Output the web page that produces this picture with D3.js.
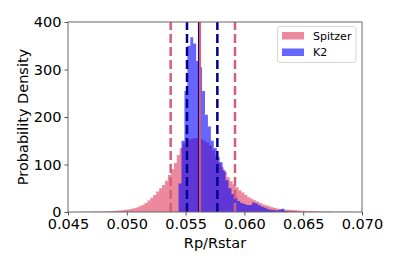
<!DOCTYPE html>
<html>
<head>
<meta charset="utf-8">
<script src="https://cdn.jsdelivr.net/npm/d3@7"></script>
<style>
  body { margin: 0; background: #fff; }
  svg { font-family: "DejaVu Sans", sans-serif; }
</style>
</head>
<body>
<svg width="399" height="266"></svg>
<script>
// histogram bins (density), width 0.00025
var binWidth = 0.00025;
var spitzerStart = 0.046;
var spitzerDensity = [0.3,0.3,0.5,0.5,0.7,0.8,1,1,1.2,1.5,1.8,2,2.5,3,3.5,4.5,5.5,6.5,8,9.5,
  12,15,19,24,30,36,43,50,57,66,78,90,103,120,135,145,150,153,155,156,
  155,153,150,146,140,130,118,104,94,84,73,65,58,52,46,41,36,31,28,25,
  22,19,16,14,12,10,8.5,7,6,5.5,5,4.5,4,3.5,3,2.5,2.5,2,2,1.5,
  1.5,1.2,1,1,0.8,0.8,0.6,0.6,0.5,0.4,0.4,0.3,0.3,0.2,0.2,0.1];
var k2Start = 0.0544;
var k2Density = [60,150,255,350,368,355,318,305,255,205,180,150,135,116,105,88,67,50,38,30,
  23,19,17,15,15,20,18,14,11,9,6,5,4,3,5,7,2,1,0.5,0.5,0.3];

// percentile / median markers
var spitzerLines = [0.05373, 0.0592];
var k2Lines = [0.05512, 0.0577];
var spitzerMedian = 0.05622;
var k2Median = 0.0561;

var xTicks = [0.045, 0.050, 0.055, 0.060, 0.065, 0.070];
var yTicks = [0, 100, 200, 300, 400];
var legendNames = ["Spitzer", "K2"];

var svg = d3.select("svg");
var mLeft = 68, mRight = 362, mTop = 22, mBottom = 212;

var x = d3.scaleLinear().domain([0.045, 0.070]).range([mLeft, mRight]);
var y = d3.scaleLinear().domain([0, 400]).range([mBottom, mTop]);

svg.append("clipPath").attr("id", "c")
  .append("rect").attr("x", mLeft).attr("y", mTop)
  .attr("width", mRight - mLeft).attr("height", mBottom - mTop);

var plot = svg.append("g").attr("clip-path", "url(#c)");

function steps(start, vals) {
  var pts = vals.map(function(v, i) { return [start + i * binWidth, v]; });
  pts.push([start + vals.length * binWidth, vals[vals.length - 1]]);
  return pts;
}

var area = d3.area()
  .curve(d3.curveStepAfter)
  .x(function(d) { return x(d[0]); })
  .y0(y(0))
  .y1(function(d) { return y(d[1]); });

plot.append("path").datum(steps(spitzerStart, spitzerDensity))
  .attr("d", area).attr("fill", "crimson").attr("fill-opacity", 0.5);

plot.append("path").datum(steps(k2Start, k2Density))
  .attr("d", area).attr("fill", "blue").attr("fill-opacity", 0.6);

// dashed lines, drawn bottom to top
plot.selectAll("line.sp").data(spitzerLines).enter().append("line")
  .attr("x1", function(d) { return x(d); }).attr("x2", function(d) { return x(d); })
  .attr("y1", y(0)).attr("y2", y(400))
  .attr("stroke", "#d2607a").attr("stroke-width", 2.5)
  .attr("stroke-dasharray", "9,4");

plot.selectAll("line.k2").data(k2Lines).enter().append("line")
  .attr("x1", function(d) { return x(d); }).attr("x2", function(d) { return x(d); })
  .attr("y1", y(0)).attr("y2", y(400))
  .attr("stroke", "#00008b").attr("stroke-width", 2.5)
  .attr("stroke-dasharray", "9,4");

plot.append("line")
  .attr("x1", x(k2Median)).attr("x2", x(k2Median))
  .attr("y1", y(0)).attr("y2", y(400))
  .attr("stroke", "#000080").attr("stroke-width", 1.2);

plot.append("line")
  .attr("x1", x(spitzerMedian)).attr("x2", x(spitzerMedian))
  .attr("y1", y(0)).attr("y2", y(400))
  .attr("stroke", "#dc5a6a").attr("stroke-width", 2);

// axes
var xAxis = svg.append("g").attr("transform", "translate(0," + mBottom + ")")
  .call(d3.axisBottom(x).tickValues(xTicks).tickFormat(d3.format(".3f")).tickSize(3.5).tickPadding(3));
var yAxis = svg.append("g").attr("transform", "translate(" + mLeft + ",0)")
  .call(d3.axisLeft(y).tickValues(yTicks).tickSize(3.5).tickPadding(3));

[xAxis, yAxis].forEach(function(a) {
  a.select(".domain").remove();
  a.selectAll(".tick line").attr("stroke", "#555");
  a.selectAll(".tick text").attr("fill", "#000")
    .style("font-family", "DejaVu Sans").style("font-size", "14.5px");
});

svg.append("rect").attr("x", mLeft).attr("y", mTop)
  .attr("width", mRight - mLeft).attr("height", mBottom - mTop)
  .attr("fill", "none").attr("stroke", "#666").attr("stroke-width", 1);

svg.append("text").attr("x", (mLeft + mRight) / 2).attr("y", 248)
  .attr("text-anchor", "middle").style("font-size", "14.5px").text("Rp/Rstar");

svg.append("text").attr("transform", "translate(28," + ((mTop + mBottom) / 2) + ") rotate(-90)")
  .attr("text-anchor", "middle").style("font-size", "14.5px").text("Probability Density");

// legend
var lg = svg.append("g");
lg.append("rect").attr("x", 277.5).attr("y", 26.5).attr("width", 78.5).attr("height", 36)
  .attr("rx", 2.5).attr("fill", "#fff").attr("fill-opacity", 0.8)
  .attr("stroke", "#ccc").attr("stroke-width", 0.8);
var legendColors = [["crimson", 0.5], ["blue", 0.6]];
lg.selectAll("rect.p").data(legendNames).enter().append("rect")
  .attr("x", 282).attr("y", function(d, i) { return 32 + i * 16.5; })
  .attr("width", 22).attr("height", 7.5)
  .attr("fill", function(d, i) { return legendColors[i][0]; })
  .attr("fill-opacity", function(d, i) { return legendColors[i][1]; });
lg.selectAll("text").data(legendNames).enter().append("text")
  .attr("x", 313).attr("y", function(d, i) { return 39.5 + i * 16.5; })
  .style("font-size", "11px").text(function(d) { return d; });
</script>
</body>
</html>
